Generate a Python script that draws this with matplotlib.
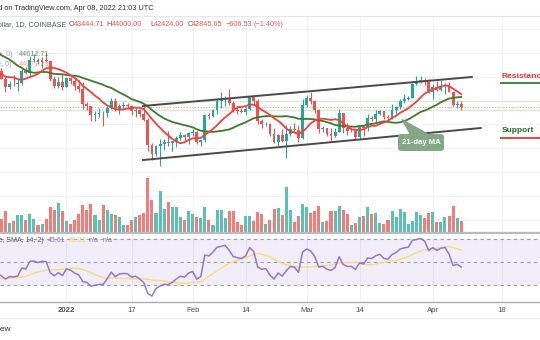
import numpy as np
import matplotlib
matplotlib.use("Agg")
import matplotlib.pyplot as plt
from matplotlib.patches import FancyBboxPatch, Polygon
from matplotlib.lines import Line2D

# BTC/USD daily candles, Coinbase, Dec 15 2021 .. Apr 8 2022
opens = [
    48380, 48880, 47650, 46200, 46850, 46700, 46900, 48950, 48600, 50800, 50850, 50450, 50800, 50700, 47550, 46450, 47150,
    46200, 47700, 47300, 46450, 45850, 43450, 43100, 41550, 41700, 41850, 41820, 42750, 43900, 42600, 43100, 43200,
    43100, 42250, 42400, 41700, 40700, 36450, 35050, 36280, 36700, 36980, 36850, 37200, 37750, 38150, 37900,
    38500, 38750, 36950, 37300, 41600, 41400, 42400, 43850, 44100, 44400, 43550, 42400, 42200, 42050, 42550, 44550,
    43900, 40550, 40000, 40100, 38350, 37050, 38250, 37250, 38350, 39250, 39100, 37700,
    43200, 44400, 43900, 42450, 39150, 39400, 38400, 37990, 38730, 41950, 39450, 38800, 38800, 37800, 39650, 39300,
    41100, 40950, 41800, 42200, 41250, 41050, 42350, 42900, 43950, 44300, 44500, 46800, 47100, 47450, 47050,
    45500, 46300, 45800, 46400, 46600, 45500, 43200, 43444.71,
]
highs = [
    49500, 49450, 48000, 47350, 48300, 47550, 49350, 49600, 51400, 51850, 51200, 51300, 52050, 50700, 48150, 47900, 48550,
    47950, 47950, 47550, 47500, 47050, 43750, 43150, 42300, 42800, 42250, 43100, 44350, 44450, 43450, 43800,
    43500, 43200, 42700, 42600, 43450, 41100, 36850, 36600, 37550, 37550, 38900, 37250, 38050, 38700, 38350, 38750,
    39250, 38850, 37400, 41750, 41950, 42650, 44500, 45500, 44800, 45850, 43950, 43000, 42750, 42850, 44750, 44550,
    44200, 40950, 40450, 40150, 39450, 38400, 39250, 39850, 39700, 40300, 39850, 44200,
    44950, 45400, 44100, 42500, 39650, 39450, 39450, 39350, 42600, 41950, 40250, 39500, 39300, 39950, 39900, 41700,
    41450, 42350, 42400, 42300, 41550, 43350, 43000, 44200, 45100, 44800, 46950, 48190, 48100, 47700, 47600,
    46700, 47200, 47450, 46900, 47100, 45500, 43900, 44000,
]
lows = [
    46550, 47550, 45500, 45950, 46450, 45550, 46650, 48450, 48050, 50450, 50200, 49450, 50500, 47350, 46100, 46050, 45700,
    46200, 46700, 45700, 45500, 42500, 42450, 40600, 40500, 41250, 39650, 41300, 42500, 42300, 41750, 42600,
    42600, 41550, 41300, 41200, 40600, 35500, 34050, 34650, 32950, 35700, 36300, 35550, 36200, 37400, 37350, 36650,
    38050, 36650, 36300, 37050, 40950, 41150, 41700, 42700, 43150, 43200, 42000, 41750, 41900, 41600, 42450, 43350,
    40100, 39450, 39650, 38050, 36800, 36400, 37050, 34320, 38050, 38600, 37000, 37450,
    42850, 43350, 41850, 38600, 38650, 38100, 37150, 37900, 38650, 38550, 38250, 38650, 37600, 37600, 38100, 38900,
    40500, 40150, 41500, 40900, 40500, 40900, 41800, 42600, 43600, 44100, 44400, 46650, 46950, 46550, 45200,
    44250, 45650, 45550, 45150, 45450, 43150, 42750, 42424,
]
closes = [
    48880, 47650, 46200, 46850, 46700, 46900, 48950, 48600, 50800, 50850, 50450, 50800, 50700, 47550, 46450, 47150, 46200,
    47700, 47300, 46450, 45850, 43450, 43100, 41550, 41700, 41850, 41820, 42750, 43900, 42600, 43100, 43200,
    43100, 42250, 42400, 41700, 40700, 36450, 35050, 36280, 36700, 36980, 36850, 37200, 37750, 38150, 37900, 38500,
    38750, 36950, 37300, 41600, 41400, 42400, 43850, 44100, 44400, 43550, 42400, 42200, 42050, 42550, 44550, 43900,
    40550, 40000, 40100, 38350, 37050, 38250, 37250, 38350, 39250, 39100, 37700, 43200,
    44400, 43900, 42450, 39150, 39400, 38400, 37990, 38730, 41950, 39450, 38800, 38800, 37800, 39650, 39300, 41100,
    40950, 41800, 42200, 41250, 41050, 42350, 42900, 43950, 44300, 44500, 46800, 47100, 47450, 47050, 45500,
    46300, 45800, 46400, 46600, 45500, 43200, 43450, 42845.65,
]
volumes = [
    40, 40, 62, 27, 32, 52, 51, 35, 55, 40, 20, 24, 38, 75, 67, 88, 62,
    33, 24, 36, 55, 82, 67, 83, 51, 36, 82, 65, 55, 50, 46, 22,
    22, 36, 45, 51, 58, 163, 97, 58, 124, 70, 89, 75, 75, 44, 36, 63,
    55, 45, 42, 75, 37, 22, 65, 66, 42, 64, 64, 29, 22, 48, 47, 32,
    61, 53, 25, 35, 68, 73, 50, 135, 67, 29, 47, 83,
    74, 58, 63, 78, 29, 34, 63, 63, 79, 65, 53, 20, 27, 44, 48, 74,
    53, 56, 28, 25, 35, 64, 45, 70, 61, 25, 34, 61, 51, 41, 57,
    59, 29, 29, 45, 48, 77, 43, 34,
]
# closes Nov 1 .. Dec 14 2021, only used to warm up the MAs and the RSI
warmup_closes = [
    61300, 63200, 62900, 61400, 61000, 61500, 63300, 67550, 66950, 64950, 64850, 64150, 64400, 65500, 63600,
    60150, 60350, 56900, 58100, 59700, 58700, 56300, 57550, 57150, 58950, 53600, 54800, 57300, 57800, 57000,
    57250, 56500, 53600, 49200, 49400, 50600, 50550, 50500, 47600, 47150, 49350, 50100, 46700, 48350,
]

# day index 0 = Dec 15 2021
tick_days = [17, 33, 48, 61, 76, 89, 107, 124]
tick_labels = ["2022", "17", "Feb", "14", "Mar", "14", "Apr", "18"]

# drawn trend channel (day, price)
upper_channel = [(35.8, 43080), (116.6, 47950)]
lower_channel = [(35.8, 34000), (118.8, 39380)]
level_lines = [44000, 42400]

W, H = 540, 340
UP, DOWN = "#26a69a", "#ef5350"
VUP, VDOWN = "#5cc0b2", "#f47b77"
GRID = "#eef1f6"
FONT = "Liberation Sans"


def rect(x0, y0, x1, y1):
    return [x0 / W, 1 - y1 / H, (x1 - x0) / W, (y1 - y0) / H]


def sma(a, n):
    a = np.asarray(a, float)
    out = np.full(len(a), np.nan)
    out[n - 1:] = np.convolve(a, np.ones(n) / n, mode="valid")
    return out


def rsi_wilder(c, n=14):
    d = np.diff(c)
    up = np.clip(d, 0, None)
    dn = np.clip(-d, 0, None)
    out = np.full(len(c), np.nan)
    ag, al = up[:n].mean(), dn[:n].mean()
    out[n] = 100 - 100 / (1 + ag / al)
    for i in range(n, len(d)):
        ag = (ag * (n - 1) + up[i]) / n
        al = (al * (n - 1) + dn[i]) / n
        out[i + 1] = 100 - 100 / (1 + ag / al)
    return out


all_c = np.array(warmup_closes + closes, float)
n = len(closes)
days = np.arange(n)
ma_fast = sma(all_c, 9)[-n:]
ma_slow = sma(all_c, 21)[-n:]
rsi_all = rsi_wilder(all_c)
rsi_ma_all = np.full(len(all_c), np.nan)
rsi_ma_all[14:] = sma(rsi_all[14:], 14)
rsi = rsi_all[-n:]
rsi_ma = rsi_ma_all[-n:]

o, h, l, c = map(np.array, (opens, highs, lows, closes))
up = c >= o

XL = (0.663, 133.35)

fig = plt.figure(figsize=(W / 100, H / 100), dpi=100)
fig.patch.set_facecolor("white")

# ---- price pane
ax = fig.add_axes(rect(0, 17, 540, 233))
ax.set_xlim(*XL)
ax.set_ylim(21740, 58028)
ax.axis("off")
for d in tick_days:
    ax.axvline(d, color=GRID, lw=0.8, zorder=0)
for p in [56000, 52000, 48000, 40000, 36000, 32000, 28000, 24000]:
    ax.axhline(p, color=GRID, lw=0.8, zorder=0)
for p in level_lines:
    ax.axhline(p, color="#d5ead3", lw=1.0, zorder=1)
ax.axhline(closes[-1], color="#f59a98", lw=0.8, ls=(0, (1, 1.5)), zorder=1)

ax.vlines(days, l, h, colors=np.where(up, UP, DOWN), lw=0.8, zorder=3)
body = np.maximum(np.abs(c - o), 120)
ax.bar(days, body, bottom=np.minimum(o, c), width=0.7,
       color=np.where(up, UP, DOWN), lw=0, zorder=3)

ax.plot(days, ma_slow, color="#3d7b2d", lw=1.3, zorder=4)
ax.plot(days, ma_fast, color="#f23f3f", lw=1.3, zorder=4)

for line in (upper_channel, lower_channel):
    xs, ys = zip(*line)
    ax.plot(xs, ys, color="#4a4a4a", lw=1.4, zorder=5)

# ---- volume (overlaid at the bottom of the price pane)
vax = fig.add_axes(rect(0, 170, 540, 232))
vax.set_xlim(*XL)
vax.set_ylim(0, 186)
vax.axis("off")
vax.patch.set_alpha(0)
vax.bar(days, volumes, width=0.75, color=np.where(up, VUP, VDOWN), lw=0)

# ---- RSI pane
rax = fig.add_axes(rect(0, 233, 540, 302))
rax.set_xlim(*XL)
rax.set_ylim(15.2, 75.2)
rax.axis("off")
for d in tick_days:
    rax.axvline(d, color=GRID, lw=0.8, zorder=0)
rax.axhspan(30, 70, color="#7e57c2", alpha=0.1, lw=0, zorder=0)
for lv in (70, 50, 30):
    rax.axhline(lv, color="#9a9aa6", lw=0.8, ls=(0, (3, 3)), zorder=1)
rax.plot(days, rsi_ma, color="#f5dc7a", lw=1.0, zorder=2)
rax.plot(days, rsi, color="#9575cd", lw=1.1, zorder=3)

# ---- frame lines
fig.add_artist(Line2D([0, 1], [1 - 16 / H] * 2, color="#e3e6ec", lw=0.8))
fig.add_artist(Line2D([0, 1], [1 - 232.5 / H] * 2, color="#b9bbc3", lw=1.6))
fig.add_artist(Line2D([0, 1], [1 - 302 / H] * 2, color="#a9abb3", lw=1.0))
fig.add_artist(Line2D([0, 1], [1 - 318 / H] * 2, color="#eceef2", lw=0.8))


def ftext(x, y, s, **kw):
    kw.setdefault("fontsize", 5.2)
    kw.setdefault("family", FONT)
    kw.setdefault("va", "center")
    return fig.text(x / W, 1 - y / H, s, **kw)


# x tick labels
for d, lab in zip(tick_days, tick_labels):
    xp = -2.7 + 4.07 * d
    ftext(xp, 310, lab, ha="center", color="#4e5058", fontsize=5.6,
          fontweight="bold" if lab == "2022" else "normal")

# header
ftext(153, 8, "Published on TradingView.com, Apr 08, 2022 21:03 UTC", ha="right", color="#2a2e39", fontsize=5.3)
ftext(66, 25, "Bitcoin / U.S. Dollar, 1D, COINBASE", ha="right", color="#555a66")
for x, s, col in [(69, "O", "#555a66"), (73.5, "43444.71", DOWN), (106.7, "H", "#555a66"),
                  (111.5, "44000.00", DOWN), (150.5, "L", "#555a66"), (154, "42424.00", DOWN),
                  (187.5, "C", "#555a66"), (192, "42845.65", DOWN), (226, "\u2212606.53", DOWN),
                  (253, "(\u22121.40%)", DOWN)]:
    ftext(x, 25, s, ha="left", color=col)

# MA legends (faded, overlapping the candles)
ftext(13, 55, "MA (21, close, 0)", ha="right", color="#777", alpha=0.7)
ftext(19, 55, "44612.71", ha="left", color="#3d7b2d", alpha=0.8)
ftext(12, 65, "MA (9, close, 0)", ha="right", color="#777", alpha=0.7)
ftext(19, 65, "44071.23", ha="left", color="#f23f3f", alpha=0.5)

# RSI legend
ftext(44, 241, "RSI (14, close, SMA, 14, 2)", ha="right", color="#555a66", fontsize=5.0)
ftext(48, 241, "45.61", ha="left", color="#9575cd", fontsize=5.0)
ftext(69, 241, "60.21", ha="left", color="#f0d35c", fontsize=5.0)
ftext(89, 241, "n/a", ha="left", color="#777", fontsize=5.0)
ftext(103, 241, "n/a", ha="left", color="#777", fontsize=5.0)

# Resistance / Support labels
ftext(502, 76.5, "Resistance", ha="left", color="#e53935", fontsize=6.0, fontweight="bold")
fig.add_artist(Line2D([501 / W, 1], [1 - 82.5 / H] * 2, color="#2e7d32", lw=1.3))
ftext(502, 130.5, "Support", ha="left", color="#1f6b25", fontsize=6.0, fontweight="bold")
fig.add_artist(Line2D([501 / W, 1], [1 - 137.5 / H] * 2, color="#e53935", lw=1.3))

# 21-day MA callout
box_col = "#84a886"
fig.add_artist(Polygon([[402 / W, 1 - 119.5 / H], [410 / W, 1 - 134 / H], [428 / W, 1 - 134 / H]],
                       closed=True, fc=box_col, ec="#7c9a7e", lw=0.6))
fig.add_artist(FancyBboxPatch((398 / W, 1 - 151 / H), 46 / W, 17 / H,
                              boxstyle="round,pad=0,rounding_size=0.008", fc=box_col, ec="none"))
ftext(421, 142.5, "21-day MA", ha="center", color="white", fontsize=5.6, fontweight="bold")

# watermark remnant bottom-left
ftext(11, 329.5, "TradingView", ha="right", color="#333", fontsize=6)

fig.savefig("out.png", dpi=100)
